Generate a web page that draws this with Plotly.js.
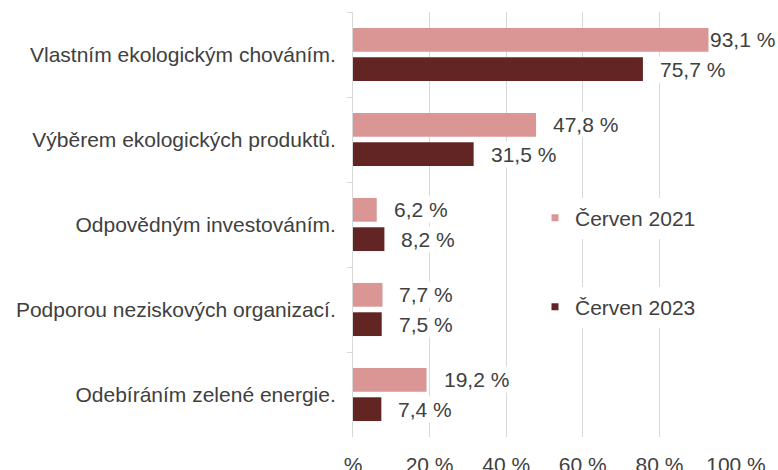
<!DOCTYPE html>
<html>
<head>
<meta charset="utf-8">
<script src="https://cdn.plot.ly/plotly-3.0.1.min.js"></script>
<style>html,body{margin:0;padding:0;background:#fff;}#chart{width:778px;height:470px;}</style>
</head>
<body>
<div id="chart"></div>
<script>
const categories = [
  "Vlastním ekologickým chováním.",
  "Výběrem ekologických produktů.",
  "Odpovědným investováním.",
  "Podporou neziskových organizací.",
  "Odebíráním zelené energie."
];
const seriesNames = ["Červen 2021", "Červen 2023"];
const values2021 = [93.1, 47.8, 6.2, 7.7, 19.2];
const values2023 = [75.7, 31.5, 8.2, 7.5, 7.4];
const xTickVals = [0, 20, 40, 60, 80, 100];
const xTickText = ["%", "20 %", "40 %", "60 %", "80 %", "100 %"];

const colors = ["#D99694", "#632523"];
const textColor = "#404040";
const fontFamily = "Liberation Sans, Arial, sans-serif";
const fs = 21;
const bargap = 0.31;

function fmt(v) { return v.toFixed(1).replace(".", ",") + " %"; }

const allVals = [values2021, values2023];
const traces = [];
allVals.forEach((vals, s) => {
  traces.push({
    type: "bar", orientation: "h",
    x: vals, y: categories,
    name: seriesNames[s],
    marker: { color: colors[s], line: { width: 0 } },
    showlegend: false, hoverinfo: "skip"
  });
});
// legend entries (small square markers)
allVals.forEach((vals, s) => {
  traces.push({
    type: "scatter", mode: "markers",
    x: [null], y: [null],
    name: seriesNames[s],
    marker: { symbol: "square", size: 7, color: colors[s] },
    legend: s === 0 ? "legend" : "legend2",
    showlegend: true, hoverinfo: "skip"
  });
});

const off = (1 - bargap) / 4;
const annotations = [];
allVals.forEach((vals, s) => {
  vals.forEach((v, i) => {
    annotations.push({
      x: v, y: i + (s === 0 ? -off : off),
      xref: "x", yref: "y",
      text: fmt(v), showarrow: false,
      xanchor: "left", yanchor: "middle",
      xshift: v > 90 ? -2 : 15,
      bgcolor: "#ffffff", borderpad: 1,
      font: { family: fontFamily, size: fs, color: textColor }
    });
  });
});

const plotTop = 12, plotBottom = 437;
const H = plotBottom - plotTop;
const legendCommon = {
  xanchor: "left", yanchor: "middle",
  bgcolor: "#ffffff", borderwidth: 0,
  font: { family: fontFamily, size: fs, color: textColor },
  itemwidth: 30
};

const layout = {
  width: 778, height: 470,
  margin: { l: 353, r: 42, t: plotTop, b: 470 - plotBottom, pad: 0 },
  paper_bgcolor: "#ffffff", plot_bgcolor: "#ffffff",
  font: { family: fontFamily, size: fs, color: textColor },
  barmode: "group", bargap: bargap, bargroupgap: 0.19,
  xaxis: {
    range: [0, 100], tickvals: xTickVals, ticktext: xTickText,
    showgrid: true, gridcolor: "#d9d9d9", gridwidth: 1,
    zeroline: false, showline: false, ticks: "",
    ticklabelstandoff: 13,
    tickfont: { family: fontFamily, size: fs, color: textColor },
    fixedrange: true
  },
  yaxis: {
    type: "category", autorange: "reversed",
    showline: true, linecolor: "#d9d9d9", linewidth: 1,
    ticks: "outside", tickson: "boundaries", ticklen: 5, tickcolor: "#d9d9d9",
    showgrid: false, zeroline: false,
    ticklabelstandoff: 12,
    tickfont: { family: fontFamily, size: fs, color: textColor },
    fixedrange: true
  },
  legend: Object.assign({ x: (535 - 353) / 383, y: (plotBottom - 218) / H }, legendCommon),
  legend2: Object.assign({ x: (535 - 353) / 383, y: (plotBottom - 307) / H }, legendCommon),
  annotations: annotations
};

Plotly.newPlot("chart", traces, layout, { displayModeBar: false, staticPlot: true });
</script>
</body>
</html>
